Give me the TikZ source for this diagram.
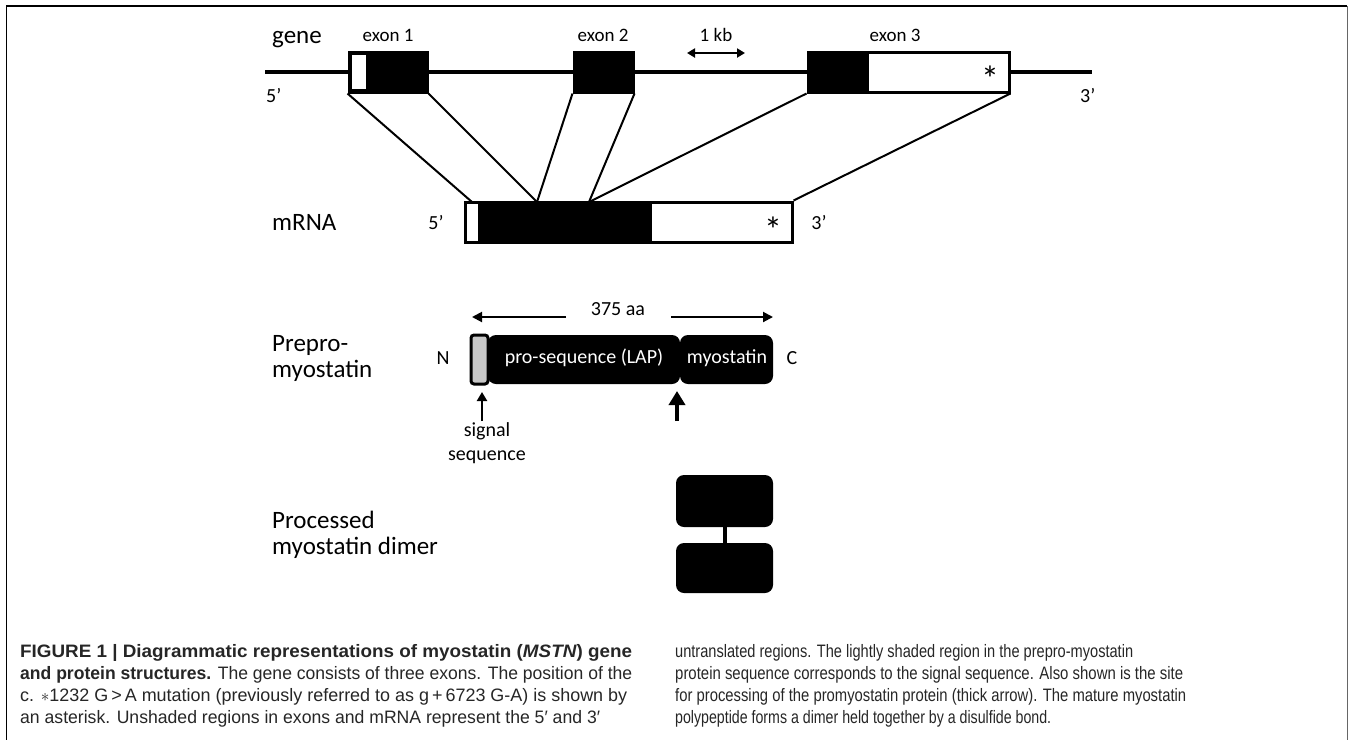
\documentclass[tikz,border=0pt]{standalone}
\usepackage{fontspec}
\usepackage{graphicx}
\setmainfont{Liberation Sans}
\newfontfamily\carlito{Carlito}
\usetikzlibrary{arrows.meta}
\newcommand{\capfit}[2]{\resizebox{#1}{\height}{#2}}
\begin{document}
\begin{tikzpicture}[x=1pt,y=-1pt,
  lbl/.style={font=\carlito\fontsize{25}{26}\selectfont, anchor=west, inner sep=0pt, align=left},
  sm/.style={font=\carlito\fontsize{19}{20}\selectfont, inner sep=0pt},
  pr/.style={font=\carlito\fontsize{20}{22}\selectfont, inner sep=0pt},
  md/.style={font=\carlito\fontsize{20}{22}\selectfont, inner sep=0pt},
  star/.style={font=\carlito\fontsize{36}{36}\selectfont, inner sep=0pt, anchor=north},
  blk/.style={fill=black, draw=none, inner sep=0pt},
  outl/.style={draw=black, line width=3pt, fill=white, inner sep=0pt},
  prot/.style={fill=black, draw=none, rounded corners=8pt, inner sep=0pt, minimum height=49pt},
  link/.style={line width=2pt},
  dbl/.style={line width=2pt, {Triangle[length=8pt,width=9pt]}-{Triangle[length=8pt,width=9pt]}},
  thinarr/.style={line width=2.5pt, -{Triangle[length=9pt,width=10pt]}},
  thickarr/.style={line width=3.5pt, -{Triangle[length=14pt,width=16pt]}},
  capt/.style={anchor=base west, inner sep=0pt, font=\fontsize{18}{21.7}\selectfont, text=black!85},
]
\useasboundingbox (0,0) rectangle (1352,740);
% frame
\draw[line width=2pt] (6,6) -- (1347,6);
\draw[line width=1pt] (6,6) -- (6,740);
\draw[line width=1pt, black!60] (1347,6) -- (1347,740);

% gene line
\coordinate (g5) at (265,72);
\coordinate (g3) at (1092,72);
\draw[line width=4pt] (g5) -- (g3);

% exons
\node[blk, draw=black, line width=3pt, minimum width=78pt, minimum height=40pt] (exon1) at (388,72) {};
\node[fill=white, inner sep=0pt, minimum width=14pt, minimum height=34pt] (utr1) at (359,72) {};
\node[blk, draw=black, line width=3pt, minimum width=59pt, minimum height=40pt] (exon2) at (603.5,72) {};
\node[outl, minimum width=201pt, minimum height=40pt] (exon3) at (908.5,72) {};
\node[blk, minimum width=61pt, minimum height=43pt] (cds3) at (838,72) {};
\node[star] (st1) at (990,66) {*};

% gene labels
\node[lbl] (gene) at (272,40) {gene};
\node[sm] (ex1) at (388,35) {exon 1};
\node[sm] (ex2) at (603,35) {exon 2};
\node[sm] (ex3) at (895,35) {exon 3};
\node[sm] (kb) at (716,35) {1 kb};
\coordinate (kbl) at (687,53);
\coordinate (kbr) at (745,53);
\draw[dbl] (kbl) -- (kbr);
\node[pr, anchor=west] (g5l) at (266,96) {5’};
\node[pr, anchor=west] (g3l) at (1080,96) {3’};

% mRNA
\node[outl, minimum width=327pt, minimum height=40pt] (mrna) at (628.5,222) {};
\node[blk, minimum width=174pt, minimum height=43pt] (mcds) at (565,222) {};
\node[star] (st2) at (773,217) {*};
\node[lbl] (mrnal) at (272,222) {mRNA};
\node[pr] (m5) at (436,223) {5’};
\node[pr] (m3) at (819,223) {3’};

% connectors gene -> mRNA
\coordinate (m1) at (472,202);
\coordinate (j1) at (537,202);
\coordinate (j2) at (589,202);
\draw[link] (exon1.south west) -- (m1);
\draw[link] (exon1.south east) -- (j1);
\draw[link] (exon2.south west) -- (j1);
\draw[link] (exon2.south east) -- (j2);
\draw[link] (exon3.south west) -- (j2);
\draw[link] (exon3.south east) -- (mrna.north east);

% prepro-myostatin
\node[lbl] (prepro) at (272,358) {Prepro-\\myostatin};
\node[prot, minimum width=192pt] (pro) at (584,359.5) {};
\node[prot, minimum width=93pt] (myo) at (726.5,359.5) {};
\node[fill=black!22, draw=black, line width=3pt, rounded corners=3pt, inner sep=0pt,
      minimum width=17pt, minimum height=49pt] (sig) at (479.5,359.5) {};
\node[md, text=white] (prot) at (584,358) {pro-sequence (LAP)};
\node[md, text=white] (myot) at (727,358) {myostatin};
\node[md] (nterm) at (443,358) {N};
\node[md] (cterm) at (792,358) {C};

\node[md] (aa) at (618,309) {375 aa};
\coordinate (aal) at (566,317);
\coordinate (aalt) at (472,317);
\coordinate (aar) at (671,317);
\coordinate (aart) at (773,317);
\draw[line width=2pt, -{Triangle[length=10pt,width=10pt]}] (aal) -- (aalt);
\draw[line width=2pt, -{Triangle[length=10pt,width=10pt]}] (aar) -- (aart);

\coordinate (sa) at (482,421);
\coordinate (sat) at (482,392);
\draw[thinarr] (sa) -- (sat);
\coordinate (ca) at (677,421);
\coordinate (cat) at (677,391);
\draw[thickarr] (ca) -- (cat);
\node[md, align=center, font=\carlito\fontsize{20}{24}\selectfont] (sigl) at (487,443) {signal\\sequence};

% dimer
\node[lbl] (proc) at (272,535) {Processed\\myostatin dimer};
\node[prot, minimum width=97pt, minimum height=52pt] (d1) at (724.5,501) {};
\node[prot, minimum width=97pt, minimum height=50pt] (d2) at (724.5,568) {};
\draw[line width=4pt] (d1.south) -- (d2.north);

% caption
\node[capt] (c1) at (20,657) {\capfit{612pt}{\textbf{FIGURE 1 | Diagrammatic representations of myostatin (\textit{MSTN}) gene}}};
\node[capt] (c2) at (20,679) {\capfit{612pt}{\textbf{and protein structures.} The gene consists of three exons. The position of the}};
\node[capt] (c3) at (20,701) {\capfit{607pt}{c. $\ast$1232 G\,>\,A mutation (previously referred to as g\,+\,6723 G-A) is shown by}};
\node[capt] (c4) at (20,723) {\capfit{580pt}{an asterisk. Unshaded regions in exons and mRNA represent the 5′ and 3′}};
\node[capt] (r1) at (675,657) {\capfit{458pt}{untranslated regions. The lightly shaded region in the prepro-myostatin}};
\node[capt] (r2) at (675,679) {\capfit{508pt}{protein sequence corresponds to the signal sequence. Also shown is the site}};
\node[capt] (r3) at (675,701) {\capfit{511pt}{for processing of the promyostatin protein (thick arrow). The mature myostatin}};
\node[capt] (r4) at (675,723) {\capfit{376pt}{polypeptide forms a dimer held together by a disulfide bond.}};
\end{tikzpicture}
\end{document}
